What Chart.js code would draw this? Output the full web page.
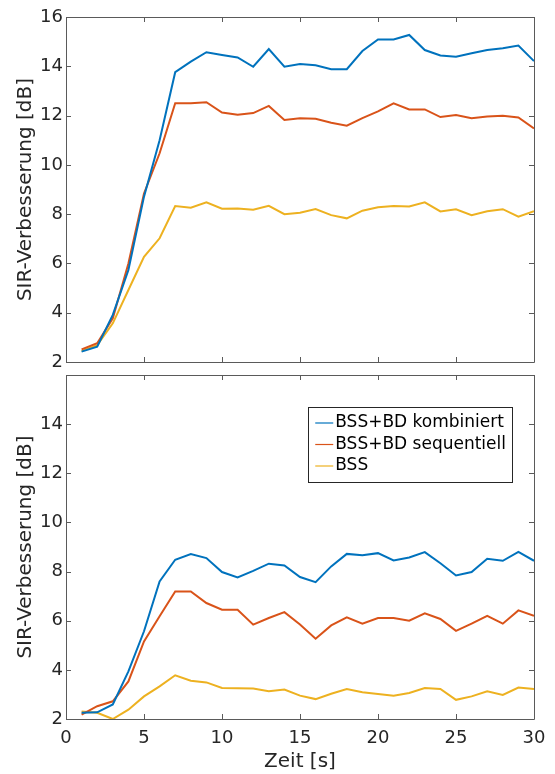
<!DOCTYPE html>
<html lang="de">
<head>
    <meta charset="UTF-8">
    <title>SIR-Verbesserung</title>
    <script src="https://cdn.jsdelivr.net/npm/chart.js"></script>
    <style>
        body { margin: 0; background: #fff; }
        #wrap { position: relative; width: 555px; height: 774px; }
        canvas { position: absolute; left: 0; }
        #chartOben { top: 0; }
        #chartUnten { top: 370px; }
    </style>
</head>
<body>
    <div id="wrap">
        <canvas id="chartOben" width="555" height="370"></canvas>
        <canvas id="chartUnten" width="555" height="404"></canvas>
    </div>

    <script>
        // Zeitachse in Sekunden
        const zeit = [1, 2, 3, 4, 5, 6, 7, 8, 9, 10, 11, 12, 13, 14, 15,
                      16, 17, 18, 19, 20, 21, 22, 23, 24, 25, 26, 27, 28, 29, 30];

        const serienNamen = ['BSS+BD kombiniert', 'BSS+BD sequentiell', 'BSS'];

        // oberes Diagramm
        const obenKombiniert = [2.42, 2.62, 3.91, 5.73, 8.71, 11.0, 13.76, 14.19, 14.57, 14.46,
                                14.36, 13.98, 14.7, 13.98, 14.09, 14.04, 13.88, 13.88, 14.62, 15.09,
                                15.09, 15.27, 14.66, 14.44, 14.39, 14.53, 14.66, 14.73, 14.84, 14.21];
        const obenSequentiell = [2.51, 2.76, 3.77, 6.0, 8.84, 10.47, 12.5, 12.5, 12.54, 12.12,
                                 12.03, 12.1, 12.39, 11.82, 11.89, 11.87, 11.71, 11.59, 11.9, 12.17,
                                 12.5, 12.25, 12.25, 11.94, 12.02, 11.89, 11.96, 11.99, 11.92, 11.48];
        const obenBSS = [2.45, 2.68, 3.57, 4.92, 6.27, 7.02, 8.33, 8.26, 8.48, 8.22,
                         8.23, 8.18, 8.34, 8.0, 8.06, 8.21, 7.96, 7.83, 8.14, 8.28,
                         8.33, 8.31, 8.48, 8.11, 8.2, 7.96, 8.12, 8.2, 7.9, 8.12];

        // unteres Diagramm
        const untenKombiniert = [2.25, 2.27, 2.59, 3.94, 5.57, 7.6, 8.48, 8.71, 8.55, 7.98,
                                 7.76, 8.03, 8.32, 8.25, 7.78, 7.57, 8.21, 8.72, 8.66, 8.75,
                                 8.45, 8.57, 8.79, 8.34, 7.84, 7.98, 8.52, 8.44, 8.8, 8.44];
        const untenSequentiell = [2.18, 2.52, 2.72, 3.53, 5.16, 6.18, 7.19, 7.19, 6.72, 6.45,
                                  6.45, 5.84, 6.11, 6.35, 5.85, 5.27, 5.81, 6.14, 5.88, 6.11,
                                  6.11, 6.0, 6.3, 6.07, 5.59, 5.88, 6.2, 5.88, 6.42, 6.2];
        const untenBSS = [2.31, 2.25, 2.0, 2.38, 2.92, 3.33, 3.78, 3.56, 3.49, 3.26,
                          3.25, 3.24, 3.13, 3.2, 2.95, 2.81, 3.03, 3.22, 3.09, 3.02,
                          2.95, 3.06, 3.26, 3.22, 2.78, 2.92, 3.13, 2.98, 3.28, 3.22];

        const xTicks = [0, 5, 10, 15, 20, 25, 30];
        const yTicks = [2, 4, 6, 8, 10, 12, 14, 16];

        const farben = ['#0072BD', '#D95319', '#EDB120'];
        const achsenFarbe = '#5a5a5a';
        const schrift = "'DejaVu Sans', sans-serif";

        function punkte(werte) {
            return werte.map((v, i) => ({ x: zeit[i], y: v }));
        }

        function datensaetze(reihen) {
            return reihen.map((werte, i) => ({
                label: serienNamen[i],
                data: punkte(werte),
                borderColor: farben[i],
                backgroundColor: farben[i],
                borderWidth: 2,
                pointRadius: 0,
                tension: 0,
                fill: false
            }));
        }

        // Rahmen mit nach innen zeigenden Ticks (wie MATLAB "box on")
        const rahmen = {
            id: 'rahmen',
            afterDatasetsDraw(chart) {
                const { ctx, chartArea: a, scales } = chart;
                const L = 5;
                ctx.save();
                ctx.strokeStyle = achsenFarbe;
                ctx.lineWidth = 1;
                ctx.beginPath();
                ctx.rect(a.left + 0.5, a.top + 0.5, a.right - a.left, a.bottom - a.top);
                scales.y.ticks.forEach(t => {
                    const py = Math.round(scales.y.getPixelForValue(t.value)) + 0.5;
                    ctx.moveTo(a.left, py); ctx.lineTo(a.left + L, py);
                    ctx.moveTo(a.right, py); ctx.lineTo(a.right - L, py);
                });
                scales.x.ticks.forEach(t => {
                    const px = Math.round(scales.x.getPixelForValue(t.value)) + 0.5;
                    ctx.moveTo(px, a.bottom); ctx.lineTo(px, a.bottom - L);
                    ctx.moveTo(px, a.top); ctx.lineTo(px, a.top + L);
                });
                ctx.stroke();
                ctx.restore();
            }
        };

        // Legende innen oben rechts
        const legendeInnen = {
            id: 'legendeInnen',
            afterDraw(chart) {
                if (!chart.options.plugins.legendeInnen.zeigen) return;
                const { ctx, chartArea: a } = chart;
                ctx.save();
                ctx.font = '17px ' + schrift;
                const sets = chart.data.datasets;
                const textBreite = Math.max(...sets.map(d => ctx.measureText(d.label).width));
                const zeile = 21.5;
                const breite = 7 + 18 + 2 + textBreite + 6;
                const hoehe = sets.length * zeile + 10;
                const x0 = a.right - 22 - breite;
                const y0 = a.top + 32;
                ctx.fillStyle = '#fff';
                ctx.fillRect(x0, y0, breite, hoehe);
                ctx.strokeStyle = '#262626';
                ctx.lineWidth = 1;
                ctx.strokeRect(Math.round(x0) + 0.5, Math.round(y0) + 0.5, Math.round(breite), Math.round(hoehe));
                sets.forEach((d, i) => {
                    const cy = y0 + 16 + i * zeile;
                    ctx.strokeStyle = d.borderColor;
                    ctx.lineWidth = 1.2;
                    ctx.beginPath();
                    ctx.moveTo(x0 + 7, cy); ctx.lineTo(x0 + 25, cy);
                    ctx.stroke();
                    ctx.fillStyle = '#000';
                    ctx.textBaseline = 'middle';
                    ctx.textAlign = 'left';
                    ctx.fillText(d.label, x0 + 27, cy);
                });
                ctx.restore();
            }
        };

        function erstelle(id, reihen, unten) {
            const ctx = document.getElementById(id).getContext('2d');
            return new Chart(ctx, {
                type: 'line',
                data: { datasets: datensaetze(reihen) },
                options: {
                    responsive: false,
                    animation: false,
                    layout: { padding: unten ? { top: 5, right: 21, bottom: 0, left: 0 }
                                             : { top: 17, right: 21, bottom: 8, left: 0 } },
                    scales: {
                        x: {
                            type: 'linear',
                            min: 0, max: 30,
                            afterBuildTicks: s => { s.ticks = xTicks.map(v => ({ value: v })); },
                            afterFit: s => {
                                s.height = unten ? 55 : 0;
                                s.paddingLeft = 0; s.paddingRight = 0;
                            },
                            grid: { display: false, drawTicks: false },
                            border: { display: false },
                            ticks: {
                                display: unten,
                                color: '#262626',
                                padding: 9,
                                maxRotation: 0,
                                font: { family: schrift, size: 18 }
                            },
                            title: {
                                display: unten,
                                text: 'Zeit [s]',
                                color: '#262626',
                                padding: { top: 0, bottom: 0 },
                                font: { family: schrift, size: 20 }
                            }
                        },
                        y: {
                            min: 2, max: 16,
                            afterBuildTicks: s => { s.ticks = yTicks.map(v => ({ value: v })); },
                            afterFit: s => {
                                s.width = 66;
                                s.paddingTop = 0; s.paddingBottom = 0;
                            },
                            grid: { display: false, drawTicks: false },
                            border: { display: false },
                            ticks: {
                                color: '#262626',
                                padding: 3,
                                font: { family: schrift, size: 18 },
                                callback: v => (unten && v === 16) ? '' : v
                            },
                            title: {
                                display: true,
                                text: 'SIR-Verbesserung [dB]',
                                color: '#262626',
                                padding: { top: 14, bottom: 0 },
                                font: { family: schrift, size: 20 }
                            }
                        }
                    },
                    plugins: {
                        legend: { display: false },
                        tooltip: { enabled: false },
                        legendeInnen: { zeigen: unten }
                    }
                },
                plugins: [rahmen, legendeInnen]
            });
        }

        erstelle('chartOben', [obenKombiniert, obenSequentiell, obenBSS], false);
        erstelle('chartUnten', [untenKombiniert, untenSequentiell, untenBSS], true);
    </script>
</body>
</html>
